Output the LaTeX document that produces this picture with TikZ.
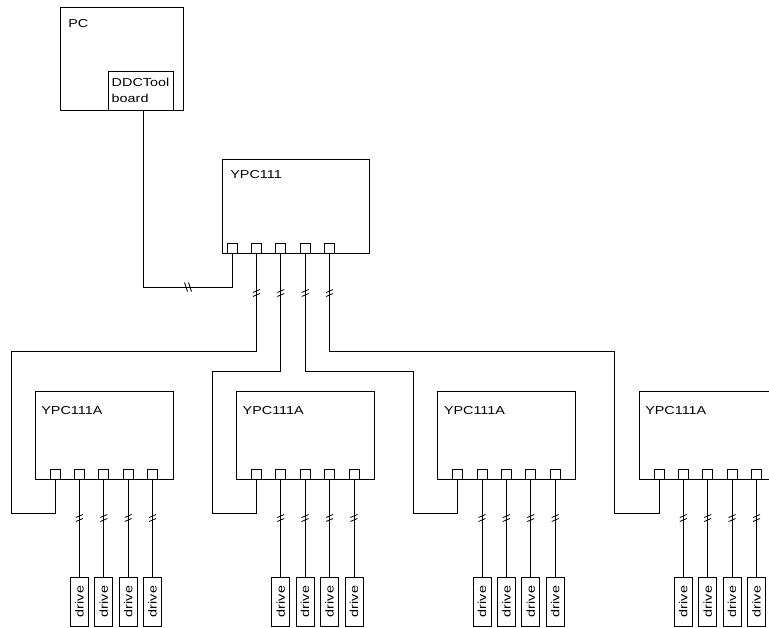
\documentclass[tikz,border=0pt]{standalone}
\usepackage{fontspec}
\setmainfont{Liberation Sans}[FakeStretch=1.25]
\usetikzlibrary{positioning}

\tikzset{
  unit/.style={draw, anchor=north west, inner sep=0pt, outer sep=0pt},
  port/.style={draw, minimum size=10pt, inner sep=0pt, outer sep=0pt, anchor=south},
  drv/.style={draw, rotate=90, anchor=east, minimum width=49pt, minimum height=18pt, inner sep=0pt, outer sep=0pt},
  tag/.style={anchor=base west, inner sep=0pt},
  cutv/.pic={\draw (-3.5,-0.5) -- (3.5,-3.5) (-3.5,3.5) -- (3.5,0.5);},
  cuth/.pic={\draw (-3.5,-4.5) -- (-0.5,4.5) (0.5,-4.5) -- (3.5,4.5);}
}

\begin{document}
\begin{tikzpicture}[x=1pt, y=-1pt, line width=0.8pt, node distance=24.4pt, on grid,
    font=\fontsize{11.5}{16}\selectfont]
  \clip (0,0) rectangle (769,627);

  % PC with its board
  \node[unit, minimum width=123pt, minimum height=103pt] (pc) at (60,7) {};
  \node[tag] at ([shift={(8,20)}]pc.north west) {PC};
  \node[draw, anchor=south west, align=left, minimum width=65pt, minimum height=39pt,
        inner sep=1pt, outer sep=0pt] (board) at (pc.south west -| 108,0) {DDCTool\\board};

  % hub
  \node[unit, minimum width=147pt, minimum height=94pt] (ypc) at (222,159) {};
  \node[tag] at ([shift={(8,19)}]ypc.north west) {YPC111};
  \node[port] (y1) at (232,253) {};
  \foreach \k [remember=\k as \j (initially 1)] in {2,...,5}
    \node[port, right=of y\j] (y\k) {};

  % drive units
  \foreach \i/\L in {1/35, 2/236.3, 3/437.6, 4/638.9} {
    \node[unit, minimum width=138pt, minimum height=88pt] (a\i) at (\L,391) {};
    \node[tag] at ([shift={(6,23)}]a\i.north west) {YPC111A};
    \node[port] (a\i-1) at ([xshift=20pt]a\i.south west) {};
    \foreach \k [remember=\k as \j (initially 1)] in {2,...,5} {
      \node[port, right=of a\i-\j] (a\i-\k) {};
      \node[drv] (d\i-\k) at (a\i-\k |- 0,577) {drive};
      \draw (a\i-\k.south) -- (d\i-\k.east);
      \pic at (a\i-\k |- 0,518) {cutv};
    }
  }

  % links
  \draw ([xshift=2.5pt]board.south) |- ([yshift=-34pt]y1.south) -- (y1.south);
  \pic at (188,287) {cuth};
  \foreach \k/\i/\x/\h in {2/1/11/351, 3/2/212/371, 4/3/413/371, 5/4/614/351} {
    \draw (y\k.south) |- (\x,\h) -- (\x,513) -| (a\i-1.south);
    \pic at (y\k |- 0,293) {cutv};
  }
\end{tikzpicture}
\end{document}
